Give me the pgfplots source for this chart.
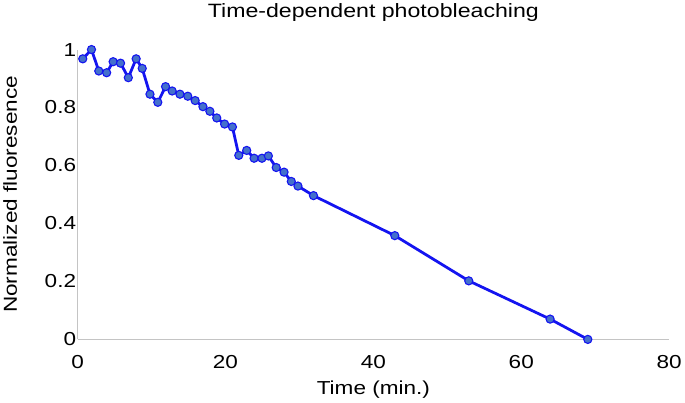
\documentclass[border=0pt]{standalone}
\usepackage{fontspec}
\setmainfont[FakeStretch=1.2]{Liberation Sans}
\usepackage{pgfplots}
\pgfplotsset{compat=1.18}
\definecolor{lineblue}{HTML}{1414F0}
\definecolor{markfill}{HTML}{4470CC}
\definecolor{axgray}{HTML}{C4C4C4}

\begin{document}
\begin{tikzpicture}[x=1bp,y=1bp]
\begin{axis}[
  scale only axis,
  width=596bp, height=292bp,
  xmin=0, xmax=80, ymin=0, ymax=1,
  xtick={0,20,...,80}, ytick={0,0.2,...,1},
  yticklabels={0,0.2,0.4,0.6,0.8,1},
  axis x line*=bottom, axis y line*=left,
  axis line style={axgray, line width=1.2bp, -},
  major tick length=0pt,
  tick label style={font=\fontsize{19}{23}\selectfont},
  /pgf/number format/assume math mode=true,
  xticklabel style={yshift=-12.5bp},
  yticklabel style={xshift=2bp},
  xlabel={Time (min.)},
  ylabel={Normalized fluoresence},
  label style={font=\fontsize{19}{23}\selectfont},
  xlabel style={yshift=-6bp},
  ylabel style={yshift=21bp},
  title={Time-dependent photobleaching},
  title style={font=\fontsize{19.5}{23}\selectfont, yshift=19bp},
  clip=false,
]
\addplot[lineblue, line width=2.8bp, mark=*, mark size=4.1bp,
  mark options={fill=markfill, draw=lineblue, line width=1.1bp}] coordinates {
  (0.7,0.968) (1.88,1.0) (2.87,0.926) (3.93,0.920) (4.81,0.958) (5.81,0.953)
  (6.86,0.903) (7.92,0.968) (8.74,0.935) (9.79,0.846) (10.85,0.818)
  (11.9,0.872) (12.79,0.857) (13.84,0.846) (14.9,0.839) (15.9,0.824)
  (16.95,0.803) (17.89,0.787) (18.82,0.764) (19.88,0.743) (20.94,0.733)
  (21.8,0.635) (22.87,0.652) (23.87,0.625) (24.93,0.625) (25.8,0.633)
  (26.86,0.593) (27.92,0.577) (28.9,0.545) (29.8,0.529) (31.9,0.496)
  (42.9,0.358) (52.9,0.202) (63.9,0.070) (69.0,0.0)
};
\end{axis}
\end{tikzpicture}
\end{document}
